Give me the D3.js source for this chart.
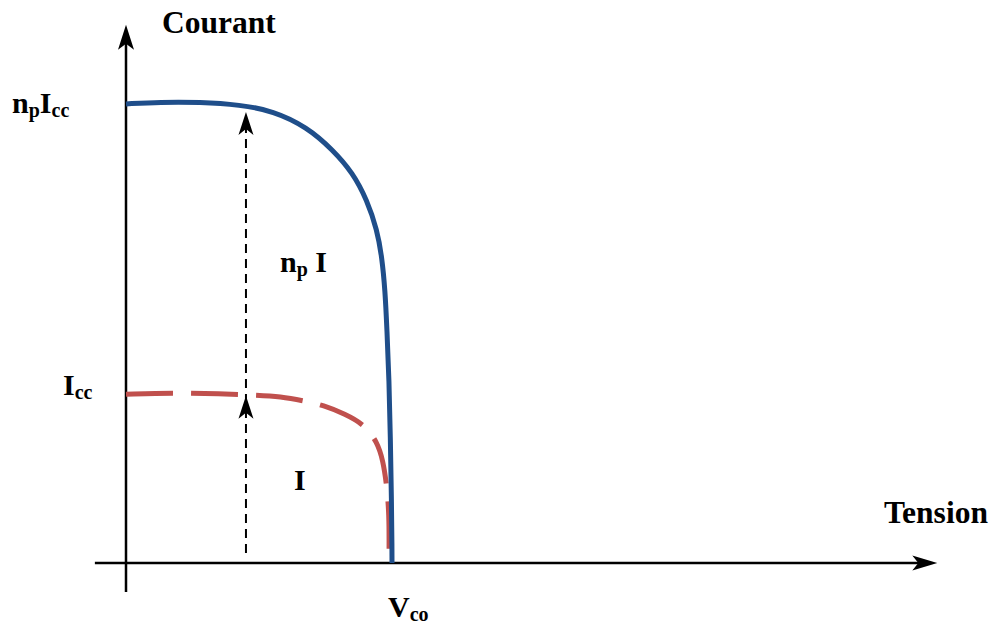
<!DOCTYPE html>
<html><head><meta charset="utf-8">
<script src="https://cdn.jsdelivr.net/npm/d3@7"></script>
<style>html,body{margin:0;padding:0;background:#fff}svg{display:block}</style>
</head><body>
<svg id="c" width="993" height="624"></svg>
<script>
// normalized voltage (Vco = 1) and current (np*Icc = 1)
const blueV = [0, 0.128, 0.278, 0.429, 0.553, 0.680, 0.778, 0.853, 0.906, 0.944, 0.962, 0.974, 0.981, 0.989, 0.994, 0.998, 1.0, 1.0];
const blueI = [0.998, 1.002, 1.002, 0.996, 0.983, 0.948, 0.898, 0.848, 0.789, 0.724, 0.665, 0.593, 0.507, 0.398, 0.267, 0.137, 0.03, 0];
const redV = [0, 0.177, 0.353, 0.492, 0.579, 0.673, 0.741, 0.823, 0.898, 0.944, 0.966, 0.981, 0.989, 0.989, 0.989];
const redI = [0.367, 0.370, 0.368, 0.365, 0.362, 0.352, 0.343, 0.324, 0.300, 0.263, 0.224, 0.165, 0.104, 0.04, 0.028];
const arrowV = 0.451;
const axisLabels = {x: "Tension", y: "Courant"};
const xDomainAxis = [-0.117, 3.05];
const yDomainAxis = [-0.063, 1.17];

const svg = d3.select("#c");
const x = d3.scaleLinear().domain([0, 1]).range([126, 392]);
const y = d3.scaleLinear().domain([0, 1]).range([563, 103]);
const font = "'Liberation Serif','Times New Roman',serif";

function arrowHead(tx, ty, angle, len, hw, notch) {
  const p = d3.path();
  p.moveTo(0, 0); p.lineTo(-len, -hw); p.lineTo(-notch, 0); p.lineTo(-len, hw); p.closePath();
  svg.append("path").attr("d", p.toString())
    .attr("transform", `translate(${tx},${ty}) rotate(${angle})`)
    .attr("fill", "#000");
}

// axes
svg.append("line").attr("x1", x(xDomainAxis[0])).attr("x2", x(xDomainAxis[1]) - 10)
  .attr("y1", y(0)).attr("y2", y(0)).attr("stroke", "#000").attr("stroke-width", 2.5);
arrowHead(x(xDomainAxis[1]), y(0), 0, 25, 7.5, 19);
svg.append("line").attr("x1", x(0)).attr("x2", x(0))
  .attr("y1", y(yDomainAxis[0])).attr("y2", y(yDomainAxis[1]) + 10).attr("stroke", "#000").attr("stroke-width", 2.5);
arrowHead(x(0), y(yDomainAxis[1]), -90, 25, 8, 19);

// dashed vertical arrow
const redAt = d3.scaleLinear().domain(redV.slice(0,5)).range(redI.slice(0,5))(arrowV);
const blueAt = d3.scaleLinear().domain(blueV.slice(0,5)).range(blueI.slice(0,5))(arrowV);
svg.append("line").attr("x1", x(arrowV)).attr("x2", x(arrowV))
  .attr("y1", y(0) - 6).attr("y2", y(blueAt) + 18)
  .attr("stroke", "#000").attr("stroke-width", 2).attr("stroke-dasharray", "9,6")
  .attr("transform", `rotate(180 ${x(arrowV)} ${(y(0) - 6 + y(blueAt) + 18) / 2})`);

// curves
const line = d3.line().x(d => x(d[0])).y(d => y(d[1])).curve(d3.curveBasis);
svg.append("path").datum(redV.map((v, i) => [v, redI[i]])).attr("d", line)
  .attr("fill", "none").attr("stroke", "#c0504d").attr("stroke-width", 5)
  .attr("stroke-dasharray", "47,18");
svg.append("path").datum(blueV.map((v, i) => [v, blueI[i]])).attr("d", line)
  .attr("fill", "none").attr("stroke", "#1f4e8a").attr("stroke-width", 5);

arrowHead(x(arrowV), y(blueAt) + 6, -90, 23, 7.5, 17);
arrowHead(x(arrowV), y(redAt) + 1, -90, 23, 7.5, 17);

// labels
function label(px, py, parts, size) {
  const t = svg.append("text").attr("x", px).attr("y", py)
    .attr("font-family", font).attr("font-weight", "bold").attr("font-size", size || 30)
    .attr("fill", "#000");
  let sub = false;
  parts.forEach(([s, isSub]) => {
    const ts = t.append("tspan").text(s);
    if (isSub) ts.attr("font-size", 20);
    if (isSub && !sub) ts.attr("dy", 4);
    else if (!isSub && sub) ts.attr("dy", -4);
    sub = isSub;
  });
}
label(162, 33, [[axisLabels.y, false]], 31.5);
label(884, 523, [[axisLabels.x, false]], 31.5);
label(12, 113, [["n", false], ["p", true], ["I", false], ["cc", true]]);
label(63, 395, [["I", false], ["cc", true]]);
label(280, 272, [["n", false], ["p", true], [" I", false]]);
label(294, 490, [["I", false]]);
label(388, 617, [["V", false], ["co", true]]);
</script>
</body></html>
